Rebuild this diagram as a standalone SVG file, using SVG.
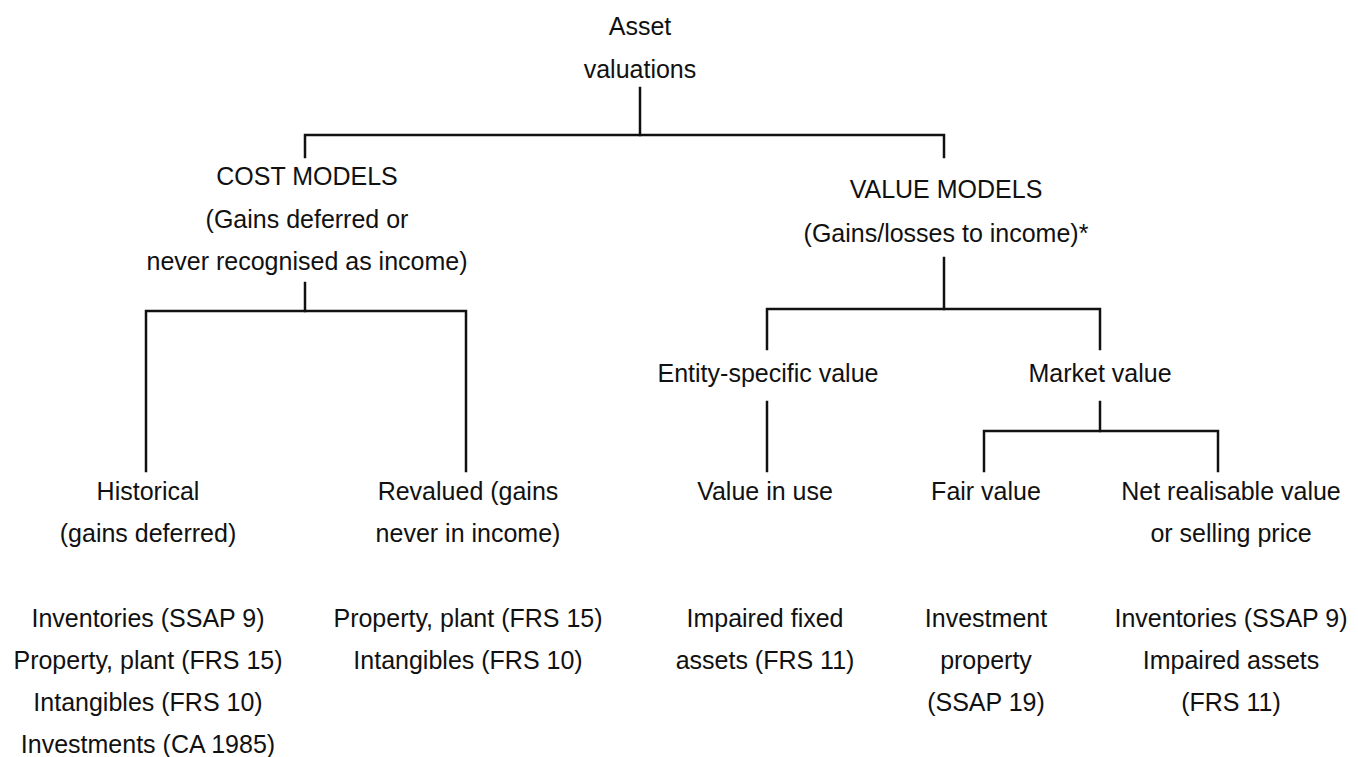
<svg xmlns="http://www.w3.org/2000/svg" width="1358" height="757" viewBox="0 0 1358 757">
<style>
text{font-family:"Liberation Sans",Arial,sans-serif;font-size:25px;fill:#111;text-anchor:middle}
.c{fill:none;stroke:#111;stroke-width:2.5;stroke-linecap:square}
</style>
<rect width="1358" height="757" fill="#fff"/>
<g id="connectors" class="c">
<path d="M640 88V135"/>
<path d="M305 157V135H944V157"/>
<path d="M305 283V311"/>
<path d="M146 471V311H466V471"/>
<path d="M944 258V309"/>
<path d="M767 349V309H1100V349"/>
<path d="M767 402V471"/>
<path d="M1100 402V431"/>
<path d="M984 471V431H1218V471"/>
</g>
<g id="root"><text x="640" y="35">Asset</text><text x="640" y="78">valuations</text></g>
<g id="cost"><text x="307" y="185">COST MODELS</text><text x="307" y="228">(Gains deferred or</text><text x="307" y="270">never recognised as income)</text></g>
<g id="value"><text x="946" y="198">VALUE MODELS</text><text x="946" y="242">(Gains/losses to income)*</text></g>
<g id="historical"><text x="148" y="500">Historical</text><text x="148" y="542">(gains deferred)</text></g>
<g id="revalued"><text x="468" y="500">Revalued (gains</text><text x="468" y="542">never in income)</text></g>
<g id="entity"><text x="768" y="382">Entity-specific value</text></g>
<g id="market"><text x="1100" y="382">Market value</text></g>
<g id="viu"><text x="765" y="500">Value in use</text></g>
<g id="fair"><text x="986" y="500">Fair value</text></g>
<g id="nrv"><text x="1231" y="500">Net realisable value</text><text x="1231" y="542">or selling price</text></g>
<g id="ex-historical"><text x="148" y="627">Inventories (SSAP 9)</text><text x="148" y="669">Property, plant (FRS 15)</text><text x="148" y="711">Intangibles (FRS 10)</text><text x="148" y="753">Investments (CA 1985)</text></g>
<g id="ex-revalued"><text x="468" y="627">Property, plant (FRS 15)</text><text x="468" y="669">Intangibles (FRS 10)</text></g>
<g id="ex-viu"><text x="765" y="627">Impaired fixed</text><text x="765" y="669">assets (FRS 11)</text></g>
<g id="ex-fair"><text x="986" y="627">Investment</text><text x="986" y="669">property</text><text x="986" y="711">(SSAP 19)</text></g>
<g id="ex-nrv"><text x="1231" y="627">Inventories (SSAP 9)</text><text x="1231" y="669">Impaired assets</text><text x="1231" y="711">(FRS 11)</text></g>
</svg>
